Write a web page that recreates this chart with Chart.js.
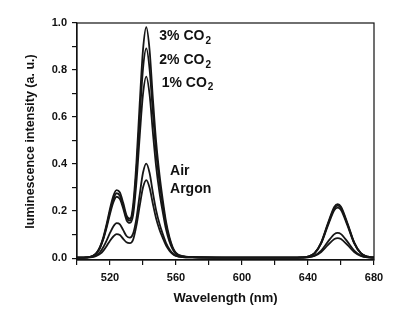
<!DOCTYPE html>
<html>
<head>
<meta charset="utf-8">
<script src="https://cdn.jsdelivr.net/npm/chart.js@4.4.1/dist/chart.umd.min.js"></script>
<style>
  html, body { margin: 0; padding: 0; background: #fff; }
  #wrap { width: 398px; height: 318px; }
</style>
</head>
<body>
<div id="wrap"><canvas id="spectra"></canvas></div>
<script>
// wavelength grid (nm)
const wavelengths = [500, 504, 508, 510, 512, 514, 516, 518, 520, 522, 524, 526, 528, 530, 532, 534, 536, 538, 540, 542, 544, 546, 548, 550, 552, 554, 556, 558, 560, 564, 570, 590, 610, 630, 636, 640, 644, 648, 652, 656, 658, 660, 664, 668, 672, 676, 680];

// intensities, one list per atmosphere
const co2_3 = [0.002, 0.002, 0.005, 0.011, 0.024, 0.049, 0.090, 0.146, 0.210, 0.264, 0.289, 0.279, 0.235, 0.182, 0.168, 0.226, 0.405, 0.657, 0.886, 0.982, 0.884, 0.678, 0.492, 0.355, 0.247, 0.154, 0.090, 0.046, 0.022, 0.008, 0.004, 0.002, 0.002, 0.002, 0.003, 0.006, 0.021, 0.067, 0.147, 0.219, 0.230, 0.219, 0.147, 0.067, 0.021, 0.006, 0.003];
const co2_2 = [0.002, 0.002, 0.005, 0.011, 0.023, 0.047, 0.085, 0.139, 0.199, 0.250, 0.276, 0.265, 0.223, 0.172, 0.160, 0.207, 0.369, 0.596, 0.805, 0.892, 0.803, 0.616, 0.447, 0.322, 0.225, 0.140, 0.082, 0.042, 0.020, 0.007, 0.004, 0.002, 0.002, 0.002, 0.003, 0.006, 0.021, 0.065, 0.143, 0.212, 0.223, 0.212, 0.143, 0.065, 0.021, 0.006, 0.003];
const co2_1 = [0.002, 0.002, 0.005, 0.010, 0.022, 0.044, 0.081, 0.131, 0.188, 0.237, 0.261, 0.251, 0.211, 0.162, 0.150, 0.183, 0.321, 0.517, 0.697, 0.772, 0.695, 0.533, 0.387, 0.279, 0.195, 0.121, 0.071, 0.037, 0.017, 0.007, 0.004, 0.002, 0.002, 0.002, 0.003, 0.006, 0.020, 0.063, 0.137, 0.205, 0.215, 0.205, 0.137, 0.063, 0.020, 0.006, 0.003];
const air = [0.002, 0.002, 0.004, 0.007, 0.013, 0.026, 0.047, 0.075, 0.107, 0.135, 0.149, 0.144, 0.119, 0.094, 0.087, 0.104, 0.168, 0.270, 0.363, 0.402, 0.362, 0.278, 0.202, 0.146, 0.102, 0.064, 0.038, 0.020, 0.010, 0.004, 0.003, 0.002, 0.002, 0.002, 0.002, 0.004, 0.011, 0.032, 0.069, 0.102, 0.107, 0.102, 0.069, 0.032, 0.011, 0.004, 0.002];
const argon = [0.002, 0.002, 0.003, 0.005, 0.010, 0.018, 0.032, 0.052, 0.074, 0.092, 0.102, 0.098, 0.082, 0.067, 0.064, 0.078, 0.138, 0.222, 0.300, 0.332, 0.299, 0.230, 0.167, 0.121, 0.085, 0.053, 0.032, 0.017, 0.009, 0.004, 0.003, 0.002, 0.002, 0.002, 0.002, 0.003, 0.009, 0.026, 0.055, 0.081, 0.085, 0.081, 0.055, 0.026, 0.009, 0.003, 0.002];

const seriesNames = ['3% CO2', '2% CO2', '1% CO2', 'Air', 'Argon'];
const seriesValues = [co2_3, co2_2, co2_1, air, argon];

// label text and where it sits, in data units (wavelength, intensity)
const labels = [
  { text: '3% CO', sub: '2', x: 549.9, y: 0.945 },
  { text: '2% CO', sub: '2', x: 549.9, y: 0.843 },
  { text: '1% CO', sub: '2', x: 551.3, y: 0.746 },
  { text: 'Air', sub: '', x: 556.4, y: 0.369 },
  { text: 'Argon', sub: '', x: 556.4, y: 0.292 },
];

const FONT = "'Liberation Sans', Arial, sans-serif";

// frame + peak labels
const extras = {
  id: 'extras',
  afterDraw(chart) {
    const { ctx, chartArea: a, scales } = chart;
    ctx.save();
    ctx.strokeStyle = '#111';
    ctx.lineWidth = 1.2;
    ctx.strokeRect(a.left, a.top, a.right - a.left, a.bottom - a.top);

    ctx.fillStyle = '#111';
    ctx.textBaseline = 'middle';
    ctx.textAlign = 'left';
    labels.forEach(l => {
      const px = scales.x.getPixelForValue(l.x);
      const py = scales.y.getPixelForValue(l.y);
      ctx.font = 'bold 14px ' + FONT;
      ctx.fillText(l.text, px, py);
      if (l.sub) {
        const w = ctx.measureText(l.text).width;
        ctx.font = 'bold 10px ' + FONT;
        ctx.fillText(l.sub, px + w + 1, py + 5);
      }
    });
    ctx.restore();
  }
};

const ctx = document.getElementById('spectra').getContext('2d');

const chart = new Chart(ctx, {
  type: 'line',
  data: {
    datasets: seriesNames.map((name, i) => ({
      label: name,
      data: wavelengths.map((w, j) => ({ x: w, y: seriesValues[i][j] })),
      borderColor: '#161616',
      borderWidth: 1.8,
      pointRadius: 0,
      fill: false,
      cubicInterpolationMode: 'monotone',
    }))
  },
  options: {
    responsive: true,
    maintainAspectRatio: false,
    animation: false,
    layout: { padding: { top: 23, right: 24, left: 0, bottom: 0 } },
    plugins: {
      legend: { display: false },
      tooltip: { enabled: false },
    },
    scales: {
      x: {
        type: 'linear',
        min: 500,
        max: 680,
        afterFit: (s) => { s.height = 58; },
        grid: { drawOnChartArea: false, color: '#111', tickLength: 5, lineWidth: 1.2 },
        border: { color: '#111', width: 1.2 },
        ticks: {
          stepSize: 20,
          color: '#111',
          padding: 6,
          maxRotation: 0,
          autoSkip: false,
          font: { family: FONT, size: 11, weight: 'bold' },
          callback: (v) => (v % 40 === 0 ? String(v) : ''),
        },
        title: {
          display: true,
          text: 'Wavelength (nm)',
          color: '#111',
          font: { family: FONT, size: 13, weight: 'bold' },
          padding: { top: 0, bottom: 12 },
        }
      },
      y: {
        min: -0.008,
        max: 1.0,
        afterFit: (s) => { s.width = 77; },
        grid: { drawOnChartArea: false, color: '#111', tickLength: 5, lineWidth: 1.2 },
        border: { color: '#111', width: 1.2 },
        ticks: {
          stepSize: 0.1,
          includeBounds: false,
          color: '#111',
          padding: 5,
          autoSkip: false,
          font: { family: FONT, size: 11, weight: 'bold' },
          callback: (v) => (Math.round(v * 10) % 2 === 0 ? v.toFixed(1) : ''),
        },
        title: {
          display: true,
          text: 'luminescence intensity (a. u.)',
          color: '#111',
          font: { family: FONT, size: 12.5, weight: 'bold' },
          padding: { top: 23, bottom: 0 },
        }
      }
    }
  },
  plugins: [extras]
});
</script>
</body>
</html>
